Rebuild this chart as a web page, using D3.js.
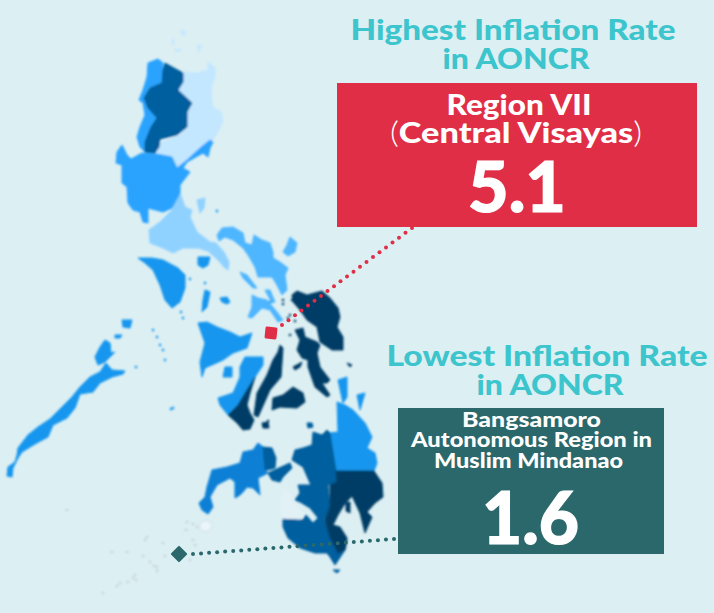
<!DOCTYPE html>
<html><head><meta charset="utf-8">
<script src="https://cdn.jsdelivr.net/npm/d3@7/dist/d3.min.js"></script>
<style>html,body{margin:0;padding:0;background:#dceff3}svg{display:block}</style>
</head><body>
<script>
// Region outlines, in map-grid units: [x,y,x,y,...]
const ilocos=[148,63,158,59,163,63,162,83,150,88,144,98,148,108,157,118,151,127,145,142,145,152,140,147,137,137,140,127,145,115,143,103,139,100,143,90,147,77];
const car=[165,63,183,73,183,82,178,90,192,103,187,112,187,127,177,135,160,139,159,147,155,153,145,152,145,142,151,127,157,118,148,108,144,98,150,88,162,83,163,70];
const cagayan=[183,72,197,73,208,70,208,62,215,68,215,77,212,85,211,95,213,107,221,112,223,120,220,128,213,140,208,141,200,150,187,160,177,168,172,157,157,153,160,143,180,135,187,127,187,112,192,103,178,90,183,80];
const centralLuzon=[116,163,117,152,122,145,127,155,131,159,142,153,157,154,172,157,177,168,187,160,200,148,210,140,213,142,210,148,208,157,203,153,187,162,183,168,190,172,180,185,180,193,172,208,163,212,148,208,148,223,143,222,140,212,133,210,128,203,127,187,122,183,122,165];
const calabarzon=[180,193,185,207,192,210,190,217,197,232,210,242,216,243,224,252,229,262,228,270,224,267,218,260,208,251,198,248,183,248,173,253,163,248,150,243,149,230,160,222,172,210];
const polillo=[197,200,205,198,204,208,200,213];
const bicol=[217,235,222,228,233,227,243,233,245,243,252,245,254,235,262,240,270,243,273,252,273,258,280,262,288,268,285,275,287,290,282,295,277,285,272,277,258,277,255,267,248,255,243,248,233,240,225,237,219,241];
const catanduanes=[290,237,297,243,295,252,288,256,283,252,287,245];
const masbate=[252,295,258,298,267,300,277,312,283,320,278,322,270,310,262,308,252,318,248,317,252,307];
const burias=[240,272,247,275,257,288,253,288,243,278];
const ticao=[265,290,270,290,275,302,272,303];
const mindoro=[138,258,152,258,163,260,178,268,185,275,185,288,180,302,172,308,165,300,160,285,153,270,145,263];
const marinduque=[198,257,210,257,208,265,203,268,198,265];
const tablas=[205,290,210,292,207,307,202,312,203,300];
const sibuyan=[220,298,227,297,230,302,227,304,222,302];
const palawan=[106,363,112,370,125,371,123,374,112,377,100,383,93,392,80,394,75,408,67,418,53,425,48,437,35,444,22,452,18,458,13,468,12,477,7,476,8,467,15,462,17,455,18,448,28,435,38,427,50,419,62,407,72,397,80,387,90,377,100,372];
const calamian=[105,340,110,343,111,353,115,352,105,362,98,365,95,357,100,347];
const busuanga=[115,335,122,335,120,338,115,338];
const lubang=[122,320,132,320,130,328,123,327];
const panay=[198,323,207,322,217,327,230,332,240,337,252,333,247,348,233,353,223,360,205,368,202,377,200,362,205,343];
const guimaras=[225,367,232,367,232,377,223,377];
const negrosOcc=[245,357,263,357,263,365,255,377,247,390,238,405,228,415,220,405,218,398,233,393,240,377,240,367];
const negrosOr=[255,377,250,393,247,405,250,413,254,420,250,429,243,430,237,423,228,415,238,405,247,390];
const cebu=[280,345,283,348,281,377,270,390,258,417,254,415,257,393,267,375,273,360,278,352];
const bohol=[293,387,303,393,305,402,297,408,280,407,272,410,273,398,283,395];
const siquijor=[262,423,268,422,269,428,263,428];
const samar=[292,295,297,291,307,295,322,291,330,298,338,308,340,317,337,327,343,337,343,350,332,350,320,342,317,327,307,320,300,310,293,302];
const leyte=[295,330,303,328,305,337,317,342,320,345,317,353,320,367,330,380,327,383,322,383,330,395,327,397,315,387,308,367,308,360,302,358,297,350,300,340];
const biliran=[293,367,302,362,300,367,295,370];
const homonhon=[347,363,352,365,350,367];
const caraga=[337,402,345,405,353,410,365,423,372,437,367,448,375,453,377,463,374,471,363,472,336,471,330,433,338,432];
const siargao=[338,380,347,377,347,397,343,403];
const dinagat=[357,395,365,393,360,410];
const northMindanao=[313,432,322,435,327,430,330,433,336,471,337,482,328,485,318,493,313,490,303,467,292,460,295,450,303,448,312,445];
const camiguin=[307,423,312,423,313,427,308,428];
const davao=[336,471,374,471,382,483,383,497,375,503,367,512,372,517,365,533,360,513,352,496,344,505,338,515,333,525,340,527,347,538,345,550,338,553,330,537,325,520,330,507,330,485,337,482];
const samal=[346,503,350,502,350,513,346,511];
const soccsksargen=[298,485,312,485,318,493,328,485,330,507,324,520,330,535,343,535,347,540,345,550,335,565,330,557,327,553,315,553,300,548,288,538,283,527,283,519,303,520,306,515,313,523,318,518,310,508,305,505,300,502,295,500,300,493];
const sarangani=[333,570,340,570,337,573];
const zamboanga=[258,443,263,447,265,470,268,473,258,478,260,495,253,488,247,487,243,492,240,495,235,498,235,482,230,478,217,485,210,497,213,507,208,514,202,510,199,503,205,497,207,487,212,470,227,467,240,463,243,452,253,450];
const lanaoNorte=[263,447,272,448,276,458,275,468,268,470,265,470];
const lanaoSur=[268,473,290,463,292,468,283,477,280,482,272,480];
const basilan=[200,523,207,520,213,525,208,532,200,530];
const bangsamoroMain=[283,488,290,493,293,502,297,507,303,513,300,519,283,518,280,510];
const batanes=[180,30,186,32,183,36];
const babuyan1=[173,38,174,44,172,44];
const babuyan2=[175,49,182,50,176,52];
const babuyan3=[198,45,202,46,198,52];

// Fill class of each region, darkest = highest rate
const regionClasses=[
 [[cagayan,batanes,babuyan1,babuyan2,babuyan3],"c1"],
 [[calabarzon,polillo],"c2"],
 [[bicol,catanduanes,masbate,burias,ticao],"c3"],
 [[ilocos,centralLuzon],"c4"],
 [[mindoro,marinduque,tablas,sibuyan,palawan,calamian,busuanga,lubang,panay,guimaras,negrosOcc,caraga,siargao,dinagat],"c5"],
 [[zamboanga],"c6"],
 [[car,northMindanao,camiguin,soccsksargen,sarangani,lanaoNorte,lanaoSur],"c7"],
 [[negrosOr,cebu,bohol,siquijor,samar,leyte,biliran,homonhon,davao,samal],"c8"],
 [[basilan],"c0"],
 [[bangsamoroMain],"c00"]
];
const classNames=["c00","c0","c1","c2","c3","c4","c5","c6","c7","c8"];
const classColors=["#e1f1f5","#e9f5f9","#c3e7ff","#90d2ff","#4db6ff","#2aa3ff","#1496ee","#0a80d6","#005f9e","#023e66"];

// Tiny islets: blue ones near Palawan / Visayas, dark ones near Samar, grey Sulu specks
const isletsBlue=[[157,337],[163,350],[165,360],[173,408],[136,367],[153,330],[160,345],[171,409],[190,279],[176,277],[205,283],[181,312],[183,318],[270,302],[217,211]];
const isletsDark=[[283,300],[290,315],[288,318],[295,321],[283,304],[292,300],[307,352],[290,335],[268,421]];
const isletsGrey=[[157,567],[154,566],[133,578],[136,580],[128,582],[120,583],[117,586],[103,593],[147,537],[145,540],[163,543],[187,522],[197,527],[193,524],[127,552],[112,552],[67,510],[165,556],[157,571],[150,562],[143,556],[135,575],[193,540],[195,545],[186,530],[190,560]];

// Report values
const titles=[["Highest Inflation Rate","in AONCR"],["Lowest Inflation Rate","in AONCR"]];
const highName=["Region VII","Central Visayas"];
const lowName=["Bangsamoro","Autonomous Region in","Muslim Mindanao"];
const highValue=5.1, lowValue=1.6;
const highLeader=[[282,325],[412,228]];
const lowLeader=[[193,554],[394,539]];
const highMark=[271,333], lowMark=[179,554];

const W=714,H=613;
const x=d3.scaleLinear().domain([0,714]).range([0,W]);
const y=d3.scaleLinear().domain([0,613]).range([0,H]);
const color=d3.scaleOrdinal(classNames,classColors);
const svg=d3.select("body").append("svg").attr("width",W).attr("height",H);
svg.append("rect").attr("width",W).attr("height",H).attr("fill","#dceff3");
svg.append("defs").append("filter").attr("id","soft").attr("x","-5%").attr("y","-5%").attr("width","110%").attr("height","110%")
  .append("feGaussianBlur").attr("stdDeviation",0.8);

const pairs=a=>d3.range(0,a.length,2).map(i=>[a[i],a[i+1]]);
const line=d3.line().x(d=>x(d[0])).y(d=>y(d[1])).curve(d3.curveLinearClosed);
const map=svg.append("g").attr("filter","url(#soft)");
regionClasses.forEach(([polys,c])=>{
  map.append("g").selectAll("path").data(polys).join("path")
    .attr("d",d=>line(pairs(d)))
    .attr("fill",color(c))
    .attr("stroke",c==="c0"?"#c9d4da":color(c)).attr("stroke-width",c==="c0"?0.6:1);
});
function islets(data,fill,op){
  map.append("g").selectAll("circle").data(data).join("circle")
    .attr("cx",d=>x(d[0])).attr("cy",d=>y(d[1])).attr("r",1.3).attr("fill",fill).attr("opacity",op);
}
islets(isletsBlue,"#1496ee",1);
islets(isletsDark,"#023e66",1);
islets(isletsGrey,"#aeb6bd",.5);

// Leaders
function leader(seg,col){
  const [[x0,y0],[x1,y1]]=seg;
  const n=Math.round(Math.hypot(x1-x0,y1-y0)/8);
  svg.append("g").selectAll("circle").data(d3.range(n+1)).join("circle")
    .attr("cx",i=>x(x0+(x1-x0)*i/n)).attr("cy",i=>y(y0+(y1-y0)*i/n)).attr("r",2).attr("fill",col);
}
const RED="#df2e46",GREEN="#2a686c",TEAL="#3dc5cd";
leader(highLeader,RED);leader(lowLeader,GREEN);
svg.append("rect").attr("x",x(highMark[0])-6).attr("y",y(highMark[1])-6).attr("width",12).attr("height",12).attr("rx",1.5)
  .attr("fill",RED).attr("transform",`rotate(6 ${x(highMark[0])} ${y(highMark[1])})`);
svg.append("rect").attr("x",x(lowMark[0])-6).attr("y",y(lowMark[1])-6).attr("width",12).attr("height",12).attr("rx",1)
  .attr("fill",GREEN).attr("transform",`rotate(45 ${x(lowMark[0])} ${y(lowMark[1])})`);

// Boxes
svg.append("rect").attr("x",337).attr("y",83).attr("width",360).attr("height",144).attr("fill",RED);
svg.append("rect").attr("x",398).attr("y",408).attr("width",266).attr("height",146).attr("fill",GREEN);

const FONT="Lato, 'Open Sans', sans-serif";
function block(lines,size,fill){
  const t=svg.append("text").attr("text-anchor","middle").attr("font-family",FONT)
    .attr("font-weight",900).attr("font-size",size).attr("fill",fill);
  lines.forEach(([s,cx,base,len])=>{
    t.append("tspan").attr("x",cx).attr("y",base).attr("textLength",len)
      .attr("lengthAdjust","spacingAndGlyphs").text(s);
  });
  return t;
}
block([[titles[0][0],513,40,325],[titles[0][1],516,69,147]],29,TEAL);
block([[titles[1][0],547,366,321],[titles[1][1],550,395,147]],29,TEAL);
const hn=svg.append("text").attr("text-anchor","middle").attr("font-family",FONT).attr("font-weight",900).attr("font-size",29).attr("fill","#fff");
hn.append("tspan").attr("x",519).attr("y",115).attr("textLength",145).attr("lengthAdjust","spacingAndGlyphs").text(highName[0]);
const hl=hn.append("tspan").attr("x",516).attr("y",143).attr("textLength",252).attr("lengthAdjust","spacingAndGlyphs");
hl.append("tspan").attr("font-weight",300).text("(");
hl.append("tspan").text(highName[1]);
hl.append("tspan").attr("font-weight",300).text(")");
block([[lowName[0],531.5,427,139],[lowName[1],531.5,447,241],[lowName[2],528.5,468,189]],20.5,"#fff");
block([[d3.format(".1f")(highValue),517,212,98]],71,"#fff").attr("stroke","#fff").attr("stroke-width",1.2);
block([[d3.format(".1f")(lowValue),530.5,544,97]],72,"#fff").attr("stroke","#fff").attr("stroke-width",1.2);
</script>
</body></html>
